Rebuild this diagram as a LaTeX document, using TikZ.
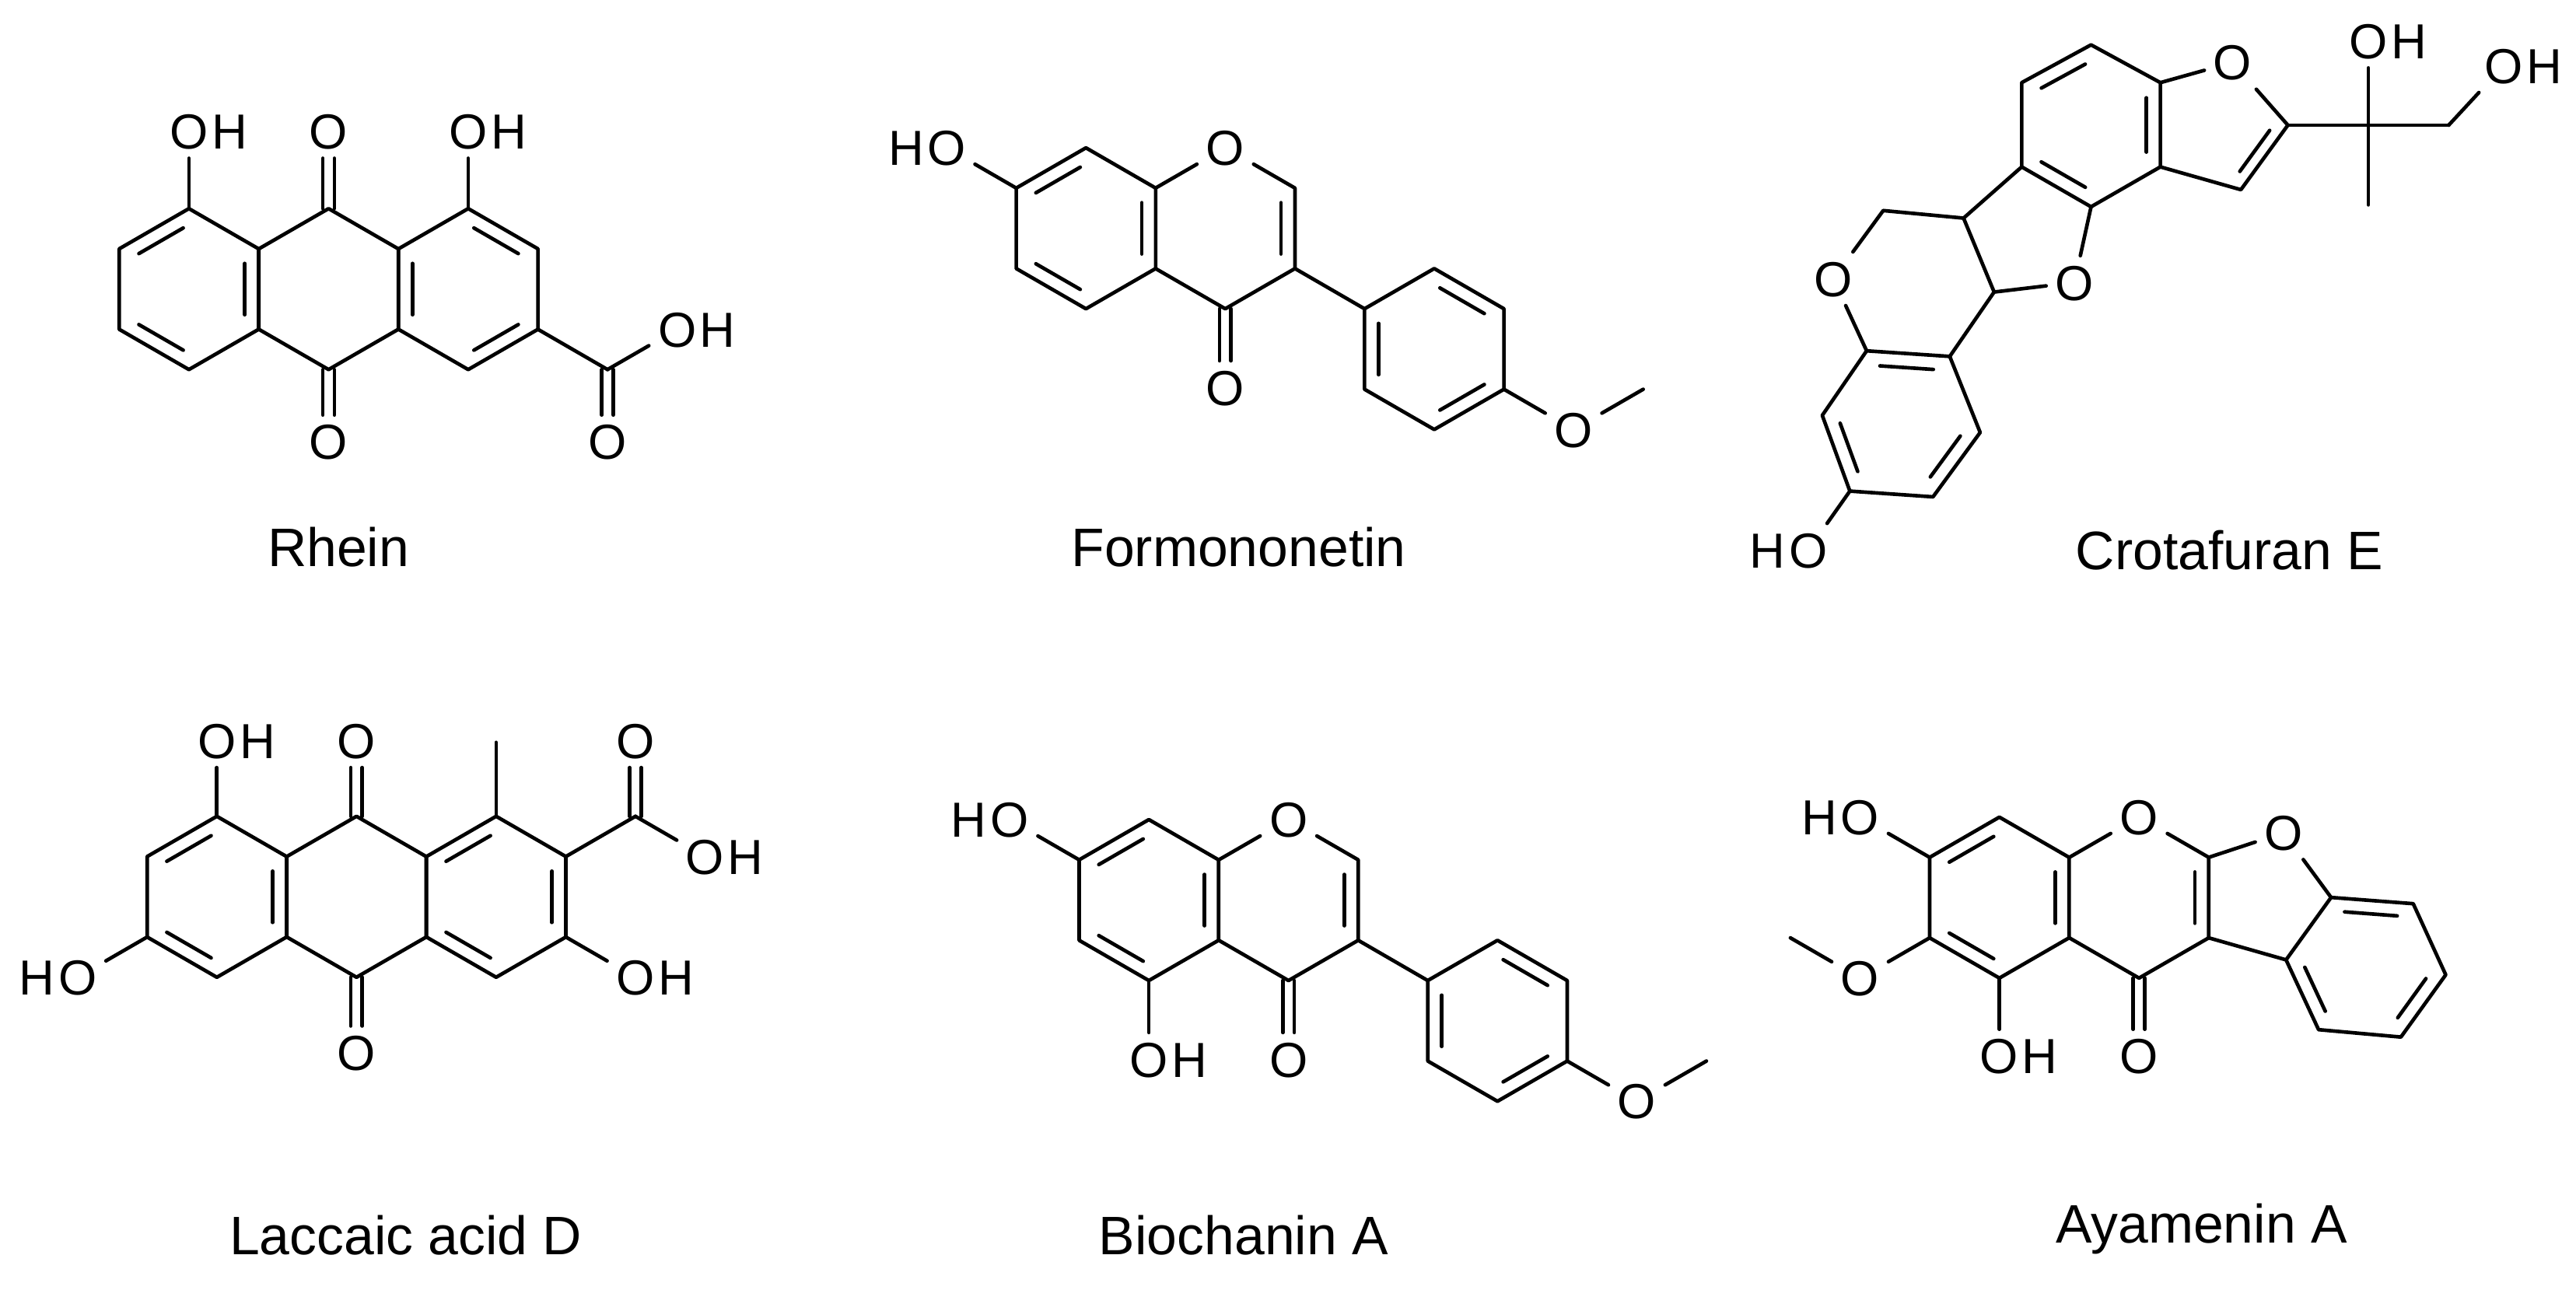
\documentclass[tikz,border=0pt]{standalone}
\usepackage{fontspec}
\setmainfont{Liberation Sans}
\usetikzlibrary{calc}
\newcommand\lab{\fontsize{30}{36}\selectfont}
\newcommand\capt{\fontsize{33}{40}\selectfont}
\newcommand\hexat[3]{%
  \coordinate (#1c) at (#2,#3);
  \foreach \i/\a in {1/-90,2/-30,3/30,4/90,5/150,6/210}{\coordinate (#1\i) at ($(#2,#3)+(\a:49)$);}}
\newcommand\hexdraw[1]{\draw (#11)--(#12)--(#13)--(#14)--(#15)--(#16)--cycle;}
\newcommand\dbl[3]{\draw[shorten <=4pt,shorten >=4pt] ($(#1)!0.2!(#3)$) -- ($(#2)!0.2!(#3)$);}
\newcommand\atomO[3]{\node[atom] (#1) at (#2,#3) {O};}
\newcommand\atomOH[3]{\node[atom] (#1) at (#2,#3) {O};\node[hyd,anchor=base west] at (#1.base east) {H};}
\newcommand\atomHO[3]{\node[atom] (#1) at (#2,#3) {O};\node[hydl,anchor=base east] at (#1.base west) {H};}
\newcommand\dco[3]{\draw ([xshift=-3.5pt]#1) -- ([xshift=-3.5pt]#2.#3); \draw ([xshift=3.5pt]#1) -- ([xshift=3.5pt]#2.#3);}
\begin{document}
\begin{tikzpicture}[x=1pt,y=-1pt,line width=2.2pt,line cap=round,line join=round,
  atom/.style={font=\lab,inner sep=4.5pt,text height=21.5pt,text depth=0pt},
  hyd/.style={font=\lab,inner sep=0pt,xshift=-4.5pt},
  hydl/.style={font=\lab,inner sep=0pt,xshift=4.5pt},
  captxt/.style={font=\capt,inner sep=0pt}]
\useasboundingbox[fill=white] (0,0) rectangle (1568,785.4);
% ---------------- Rhein
\hexat{ra}{115}{176}\hexat{rb}{200}{176}\hexat{rc}{285}{176}
\hexdraw{ra}\hexdraw{rb}\hexdraw{rc}
\dbl{ra6}{ra1}{rac}\dbl{ra4}{ra5}{rac}\dbl{ra2}{ra3}{rac}
\dbl{rc1}{rc2}{rcc}\dbl{rc3}{rc4}{rcc}\dbl{rc5}{rc6}{rcc}
\atomOH{rO1}{115}{80}\draw (ra1) -- (rO1);
\atomOH{rO3}{285}{80}\draw (rc1) -- (rO3);
\atomO{rO2}{200}{80}\dco{rb1}{rO2}{south}
\atomO{rO4}{200}{269}\dco{rb4}{rO4}{north}
\coordinate (rC) at (369.8,225);
\draw (rc3) -- (rC);
\atomO{rO5}{369.8}{269}\dco{rC}{rO5}{north}
\atomOH{rO6}{412.2}{200.5}\draw (rC) -- (rO6);
\node[captxt] (rcap) at (206,333) {Rhein};
% ---------------- Formononetin
\hexat{fa}{661}{139}\hexat{fb}{745.8}{139}\hexat{fp}{873}{212.5}
\hexdraw{fa}\hexdraw{fp}
\atomO{fO1}{745.8}{90}
\draw (fb6) -- (fO1); \draw (fO1) -- (fb2) -- (fb3) -- (fb4) -- (fb5);
\dbl{fa6}{fa1}{fac}\dbl{fa4}{fa5}{fac}\dbl{fa2}{fa3}{fac}
\dbl{fb2}{fb3}{fbc}
\dbl{fp1}{fp2}{fpc}\dbl{fp3}{fp4}{fpc}\dbl{fp5}{fp6}{fpc}
\draw (fb3) -- (fp6);
\atomO{fO2}{745.8}{236}\dco{fb4}{fO2}{north}
\atomHO{fO3}{576.2}{90}\draw (fa6) -- (fO3);
\atomO{fO4}{957.8}{261.5}\coordinate (fMe) at (1000.2,237);
\draw (fp3) -- (fO4); \draw (fO4) -- (fMe);
\node[captxt] (fcap) at (754,333) {Formononetin};
% ---------------- Crotafuran E
\coordinate (c1) at (1272.8,27.3);\coordinate (c2) at (1315,50.3);\coordinate (c3) at (1315,101.6);
\coordinate (c4) at (1272.8,125.9);\coordinate (c5) at (1230.6,101.6);\coordinate (c6) at (1230.6,50.3);
\coordinate (cbc) at (1272.8,76.5);
\draw (c1)--(c2)--(c3)--(c4)--(c5)--(c6)--cycle;
\dbl{c1}{c6}{cbc}\dbl{c2}{c3}{cbc}\dbl{c5}{c4}{cbc}
\atomO{cOf}{1359}{38}
\coordinate (cf2) at (1392.6,76.2);\coordinate (cf3) at (1364,115.5);\coordinate (cfc) at (1349,76);
\draw (c2) -- (cOf); \draw (cOf) -- (cf2) -- (cf3) -- (c3);
\dbl{cf2}{cf3}{cfc}
\coordinate (cq) at (1441.6,76.2);\coordinate (cme) at (1441.6,124.7);\coordinate (cch) at (1490.5,76.2);
\draw (cf2) -- (cq) -- (cch); \draw (cq) -- (cme);
\atomOH{cO1}{1441.6}{25}\draw (cq) -- (cO1);
\atomOH{cO2}{1524}{40}\draw (cch) -- (cO2);
\atomO{cO3}{1262.7}{172}
\coordinate (c11a) at (1213.8,177.8);\coordinate (c6a) at (1195.2,132.8);\coordinate (c6c) at (1146.3,128.2);
\atomO{cO4}{1115.9}{169.7}
\draw (c4) -- (cO3); \draw (cO3) -- (c11a) -- (c6a) -- (c5);
\draw (c6a) -- (c6c) -- (cO4);
\coordinate (d1) at (1136.2,213.6);\coordinate (d2) at (1186.8,217);\coordinate (d3) at (1205.3,263.3);
\coordinate (d4) at (1176.6,302.5);\coordinate (d5) at (1126,299);\coordinate (d6) at (1109.2,252.9);
\coordinate (dc) at (1156.7,258);
\draw (d1)--(d2)--(d3)--(d4)--(d5)--(d6)--cycle;
\draw (cO4) -- (d1); \draw (c11a) -- (d2);
\dbl{d1}{d2}{dc}\dbl{d6}{d5}{dc}\dbl{d3}{d4}{dc}
\atomHO{cO5}{1100.6}{335}\draw (d5) -- (cO5);
\node[captxt] (ccap) at (1357,335) {Crotafuran E};
% ---------------- Laccaic acid D
\hexat{la}{132}{546}\hexat{lb}{217}{546}\hexat{lc}{302}{546}
\hexdraw{la}\hexdraw{lb}\hexdraw{lc}
\dbl{la6}{la1}{lac}\dbl{la4}{la5}{lac}\dbl{la2}{la3}{lac}
\dbl{lc1}{lc6}{lcc}\dbl{lc4}{lc5}{lcc}\dbl{lc2}{lc3}{lcc}
\atomOH{lO1}{132}{451}\draw (la1) -- (lO1);
\atomO{lO2}{217}{451}\dco{lb1}{lO2}{south}
\atomO{lO3}{217}{641}\dco{lb4}{lO3}{north}
\coordinate (lme) at (302,452);\draw (lc1) -- (lme);
\coordinate (lC) at (386.8,497);\draw (lc2) -- (lC);
\atomO{lO4}{386.8}{451}\dco{lC}{lO4}{south}
\atomOH{lO5}{429.2}{521.5}\draw (lC) -- (lO5);
\atomOH{lO6}{386.8}{595}\draw (lc3) -- (lO6);
\atomHO{lO7}{47.2}{595}\draw (la5) -- (lO7);
\node[captxt] (lcap) at (247,752) {Laccaic acid D};
% ---------------- Biochanin A
\hexat{ba}{699.3}{548}\hexat{bb}{784.3}{548}\hexat{bp}{911.5}{621.5}
\hexdraw{ba}\hexdraw{bp}
\atomO{bO1}{784.3}{499}
\draw (bb6) -- (bO1); \draw (bO1) -- (bb2) -- (bb3) -- (bb4) -- (bb5);
\dbl{ba6}{ba1}{bac}\dbl{ba4}{ba5}{bac}\dbl{ba2}{ba3}{bac}
\dbl{bb2}{bb3}{bbc}
\dbl{bp1}{bp2}{bpc}\dbl{bp3}{bp4}{bpc}\dbl{bp5}{bp6}{bpc}
\draw (bb3) -- (bp6);
\atomO{bO2}{784.3}{645}\dco{bb4}{bO2}{north}
\atomHO{bO3}{614.5}{499}\draw (ba6) -- (bO3);
\atomOH{bO4}{699.3}{645}\draw (ba4) -- (bO4);
\atomO{bO5}{996.3}{670.5}\coordinate (bMe) at (1038.7,646);
\draw (bp3) -- (bO5); \draw (bO5) -- (bMe);
\node[captxt] (bcap) at (757,752) {Biochanin A};
% ---------------- Ayamenin A
\hexat{aa}{1217}{546.5}\hexat{ab}{1302}{546.5}
\hexdraw{aa}
\atomO{aO1}{1302}{497.5}
\draw (ab6) -- (aO1); \draw (aO1) -- (ab2) -- (ab3) -- (ab4) -- (ab5);
\dbl{aa6}{aa1}{aac}\dbl{aa4}{aa5}{aac}\dbl{aa2}{aa3}{aac}
\dbl{ab2}{ab3}{abc}
\atomO{aO2}{1302}{643}\dco{ab4}{aO2}{north}
\atomHO{aO3}{1132.2}{497.5}\draw (aa6) -- (aO3);
\atomO{aO4}{1132.2}{595.5}\coordinate (aMe) at (1089.8,571);
\draw (aa5) -- (aO4); \draw (aO4) -- (aMe);
\atomOH{aO5}{1217}{643}\draw (aa4) -- (aO5);
\atomO{aOf}{1390}{507}
\coordinate (e1) at (1418.9,546.4);\coordinate (e2) at (1468.9,550.2);\coordinate (e3) at (1488.7,593.5);
\coordinate (e4) at (1461.4,631.4);\coordinate (e5) at (1411.3,626.9);\coordinate (e6) at (1391.5,584.4);
\coordinate (ec) at (1440.1,588.8);
\draw (e1)--(e2)--(e3)--(e4)--(e5)--(e6)--cycle;
\draw (ab2) -- (aOf); \draw (aOf) -- (e1); \draw (e6) -- (ab3);
\dbl{e1}{e2}{ec}\dbl{e3}{e4}{ec}\dbl{e5}{e6}{ec}
\node[captxt] (acap) at (1340,748) {Ayamenin A};
\end{tikzpicture}
\end{document}
